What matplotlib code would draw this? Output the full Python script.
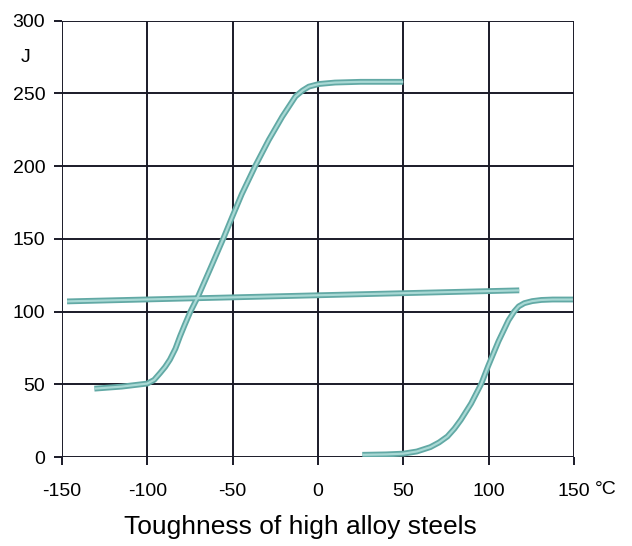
import matplotlib
matplotlib.use("Agg")
import matplotlib.pyplot as plt
import numpy as np

plt.rcParams['font.family'] = ['Liberation Sans', 'DejaVu Sans']

# Curve data (temperature °C, impact energy J)
c1_x = [-131, -115, -100, -96, -92.5, -89.5, -86.7, -83.5, -80.8, -78, -74.9, -70, -63, -55.3, -50.4, -44.6, -36.6, -28.8, -20.9, -13.1, -9, -5.3, 0.6, 10, 25, 50]
c1_y = [47, 48.4, 50.5, 53, 57.7, 62, 67, 74.5, 83, 91, 99.5, 111, 129.7, 150.6, 164.6, 180.8, 200.4, 218, 234, 248, 252, 254.7, 256.5, 257.5, 258, 258]

c2_x = [-147, 118]
c2_y = [107, 114.6]

c3_x = [26, 40, 50, 58, 65.9, 71, 75.9, 80, 83.8, 89.8, 95.8, 99.8, 105.8, 111.7, 115, 117.7, 121, 125.6, 131, 137.6, 149.5]
c3_y = [1.5, 1.8, 2.3, 3.8, 6.8, 10, 14.1, 19.5, 25.6, 36.8, 50.5, 62.6, 79.5, 94, 100, 103.6, 105.8, 107.2, 108, 108.3, 108.3]

xticks = [-150, -100, -50, 0, 50, 100, 150]
yticks = [0, 50, 100, 150, 200, 250, 300]

fig = plt.figure(figsize=(6.32, 5.46), dpi=100)
ax = fig.add_axes([0.098, 0.163, 0.81, 0.799])
ax.set_xlim(-150, 150)
ax.set_ylim(0, 300)
ax.set_xticks(xticks)
ax.set_yticks(yticks)
ax.set_xticklabels([str(v) for v in xticks])
ax.set_yticklabels([str(v) for v in yticks])
ax.grid(True, color='#1a1a28', linewidth=1.4)
for s in ax.spines.values():
    s.set_visible(False)
ax.tick_params(axis='both', length=6, width=1.4, color='#1a1a28', labelsize=14)
ax.tick_params(axis='x', pad=13)
ax.tick_params(axis='y', pad=6)

for xs, ys in [(c1_x, c1_y), (c2_x, c2_y), (c3_x, c3_y)]:
    ax.plot(xs, ys, color='#62a9a5', linewidth=4.2, solid_capstyle='butt',
            solid_joinstyle='round', zorder=3)
    ax.plot(xs, ys, color='#a9d9d5', linewidth=1.6, solid_capstyle='butt',
            solid_joinstyle='round', zorder=4)

fig.text(0.04, 0.895, 'J', fontsize=14, ha='center', va='center')
fig.text(0.958, 0.103, '°C', fontsize=14, ha='center', va='center')
fig.text(0.475, 0.035, 'Toughness of high alloy steels', fontsize=19, ha='center', va='center')

fig.savefig('out.png', dpi=100)
